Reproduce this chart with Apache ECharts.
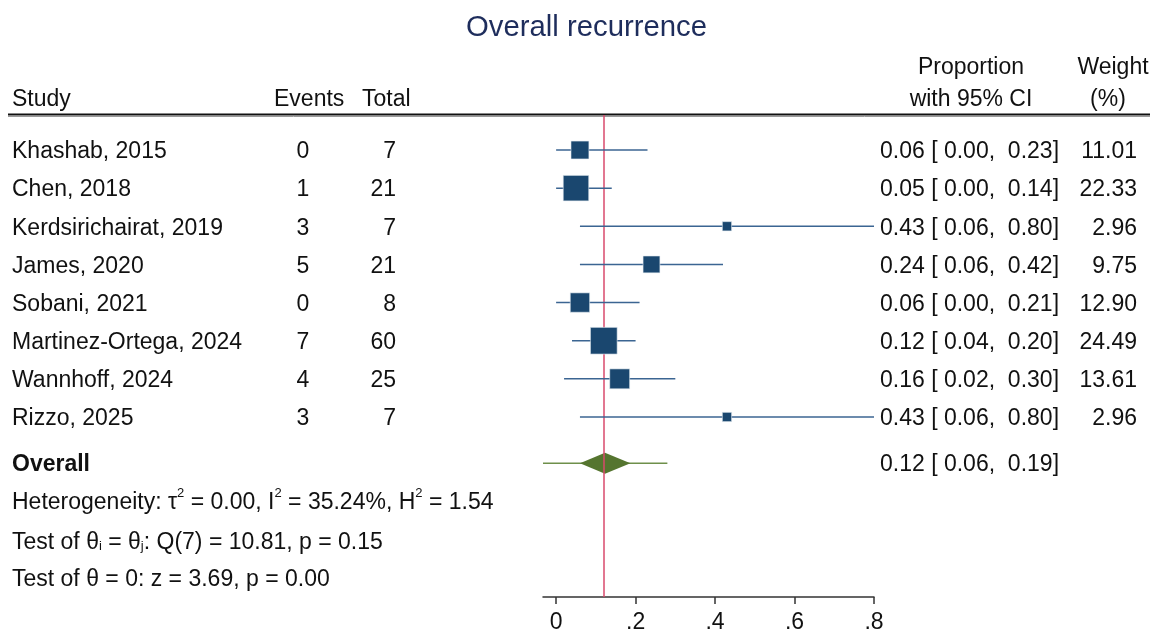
<!DOCTYPE html>
<html>
<head>
<meta charset="utf-8">
<script src="https://cdn.jsdelivr.net/npm/echarts@6/dist/echarts.min.js"></script>
<style>
html,body{margin:0;padding:0;background:#fff;}
#main{width:1150px;height:632px;}
</style>
</head>
<body>
<div id="main"></div>
<script>
// ---- data ----
const studies = ['Khashab, 2015','Chen, 2018','Kerdsirichairat, 2019','James, 2020','Sobani, 2021','Martinez-Ortega, 2024','Wannhoff, 2024','Rizzo, 2025'];
const events = [0, 1, 3, 5, 0, 7, 4, 3];
const totals = [7, 21, 7, 21, 8, 60, 25, 7];
const props = [0.06, 0.05, 0.43, 0.24, 0.06, 0.12, 0.16, 0.43];
const lowers = [0.00, 0.00, 0.06, 0.06, 0.00, 0.04, 0.02, 0.06];
const uppers = [0.23, 0.14, 0.80, 0.42, 0.21, 0.20, 0.30, 0.80];
const weights = [11.01, 22.33, 2.96, 9.75, 12.90, 24.49, 13.61, 2.96];
const overallEst = 0.123;
const overallLo = 0.06;
const overallHi = 0.187;
const predLo = -0.033;
const predHi = 0.28;
const overallRow = 8.21;
const xTicks = [0, 0.2, 0.4, 0.6, 0.8];
const statLines = [
  'Heterogeneity: τ{sup|2} = 0.00, I{sup|2} = 35.24%, H{sup|2} = 1.54',
  'Test of θ{sub|i} = θ{sub|j}: Q(7) = 10.81, p = 0.15',
  'Test of θ = 0: z = 3.69, p = 0.00'
];
const statRows = [9.2, 10.23, 11.22];

// ---- style ----
const FONT = '"Liberation Sans", Arial, sans-serif';
const FS = 23;
const NAVY = '#1a476f';
const GREEN = '#55752f';
const RED = '#d94a6c';
const TXT = '#111';
const DY = 2; // text baseline nudge

const f2 = v => v.toFixed(2);
const ciText = (p, l, h) => f2(p) + ' [ ' + f2(l) + ',  ' + f2(h) + ']';

const chart = echarts.init(document.getElementById('main'), null, {renderer: 'canvas'});

const rowData = studies.map((s, i) => [lowers[i], uppers[i], props[i], i, weights[i]]);

function txt(x, y, text, align, extra) {
  return {
    type: 'text',
    style: Object.assign({
      x: x, y: y + DY, text: text, fill: TXT, font: FS + 'px ' + FONT,
      align: align || 'left', verticalAlign: 'middle'
    }, extra || {})
  };
}

const option = {
  animation: false,
  backgroundColor: '#fff',
  title: {
    text: 'Overall recurrence', left: 461, top: 8,
    textStyle: {fontFamily: FONT, fontSize: 29.3, fontWeight: 'normal', color: '#1e2d5c'}
  },
  grid: {left: 543, width: 331, top: 115, height: 482, outerBoundsMode: 'none', containLabel: false},
  xAxis: {
    type: 'value', min: predLo, max: 0.8,
    splitLine: {show: false},
    axisLine: {show: true, onZero: false, lineStyle: {color: '#333', width: 1.5}},
    axisTick: {show: true, inside: false, length: 7, customValues: xTicks, lineStyle: {color: '#333', width: 1.5}},
    axisLabel: {
      customValues: xTicks, margin: 14,
      fontFamily: FONT, fontSize: FS, color: TXT,
      formatter: v => (Math.abs(v) < 1e-9 ? '0' : String(+v.toFixed(1)).replace(/^0/, ''))
    }
  },
  yAxis: {type: 'value', inverse: true, min: -0.918, max: 11.72, show: false},
  series: [
    {
      type: 'custom', name: 'studies', clip: false, z: 5,
      data: rowData,
      encode: {x: [0, 1, 2], y: 3},
      renderItem: function (params, api) {
        const row = api.value(3);
        const lo = api.coord([api.value(0), row]);
        const hi = api.coord([api.value(1), row]);
        const c = api.coord([api.value(2), row]);
        const s = 5.4 * Math.sqrt(api.value(4));
        return {
          type: 'group',
          children: [
            {type: 'line', shape: {x1: lo[0], y1: lo[1], x2: hi[0], y2: hi[1]},
             style: {stroke: '#3b6592', lineWidth: 1.5}},
            {type: 'rect', shape: {x: c[0] - s / 2, y: c[1] - s / 2, width: s, height: s},
             style: {fill: NAVY, stroke: '#e6ecf2', lineWidth: 0.6}}
          ]
        };
      }
    },
    {
      type: 'custom', name: 'overall', clip: false, z: 4,
      data: [[predLo, predHi, overallLo, overallEst, overallHi, overallRow]],
      encode: {x: [0, 1], y: 5},
      renderItem: function (params, api) {
        const row = api.value(5);
        const pl = api.coord([api.value(0), row]);
        const ph = api.coord([api.value(1), row]);
        const dl = api.coord([api.value(2), row]);
        const de = api.coord([api.value(3), row]);
        const dh = api.coord([api.value(4), row]);
        const hh = 10.5;
        return {
          type: 'group',
          children: [
            {type: 'line', shape: {x1: pl[0], y1: pl[1], x2: ph[0], y2: ph[1]},
             style: {stroke: '#6e8f4a', lineWidth: 1.5}},
            {type: 'polygon', shape: {points: [[dl[0], dl[1]], [de[0], de[1] - hh], [dh[0], dh[1]], [de[0], de[1] + hh]]},
             style: {fill: GREEN}}
          ]
        };
      },
      markLine: {
        silent: true, symbol: 'none', label: {show: false},
        lineStyle: {color: RED, width: 1.5, type: 'solid'},
        data: [{xAxis: overallEst}]
      }
    },
    {
      type: 'custom', name: 'rowtext', clip: false, silent: true, z: 6,
      data: rowData.map((d, i) => [0, i]),
      encode: {x: 0, y: 1},
      renderItem: function (params, api) {
        const i = params.dataIndex;
        const y = api.coord([0, api.value(1)])[1];
        return {
          type: 'group',
          children: [
            txt(12, y, studies[i]),
            txt(303, y, String(events[i]), 'center'),
            txt(396, y, String(totals[i]), 'right'),
            txt(880, y, ciText(props[i], lowers[i], uppers[i])),
            txt(1137, y, weights[i].toFixed(2), 'right')
          ]
        };
      }
    },
    {
      type: 'custom', name: 'overalltext', clip: false, silent: true, z: 6,
      data: [[0, overallRow]],
      encode: {x: 0, y: 1},
      renderItem: function (params, api) {
        const y = api.coord([0, api.value(1)])[1];
        return {
          type: 'group',
          children: [
            txt(12, y, 'Overall', 'left', {font: 'bold ' + FS + 'px ' + FONT}),
            txt(880, y, ciText(overallEst, overallLo, overallHi))
          ]
        };
      }
    },
    {
      type: 'custom', name: 'stats', clip: false, silent: true, z: 6,
      data: statRows.map(r => [0, r]),
      encode: {x: 0, y: 1},
      renderItem: function (params, api) {
        const y = api.coord([0, api.value(1)])[1];
        return {
          type: 'text',
          style: {
            x: 12, y: y + DY, text: statLines[params.dataIndex], fill: TXT,
            font: FS + 'px ' + FONT, verticalAlign: 'middle', align: 'left',
            rich: {
              sup: {fontSize: 13, fontFamily: FONT, color: TXT, padding: [0, 0, 18, 0]},
              sub: {fontSize: 13, fontFamily: FONT, color: TXT, padding: [8, 0, 0, 0]}
            }
          }
        };
      }
    }
  ],
  graphic: [
    {type: 'line', shape: {x1: 8, y1: 114.5, x2: 1150, y2: 114.5}, style: {stroke: '#111', lineWidth: 2}},
    {type: 'line', shape: {x1: 8, y1: 116.5, x2: 1150, y2: 116.5}, style: {stroke: '#999', lineWidth: 1}},
    txt(12, 98, 'Study'),
    txt(274, 98, 'Events'),
    txt(362, 98, 'Total'),
    txt(971, 66, 'Proportion', 'center'),
    txt(971, 98, 'with 95% CI', 'center'),
    txt(1113, 66, 'Weight', 'center'),
    txt(1108, 98, '(%)', 'center')
  ]
};

chart.setOption(option);
</script>
</body>
</html>
